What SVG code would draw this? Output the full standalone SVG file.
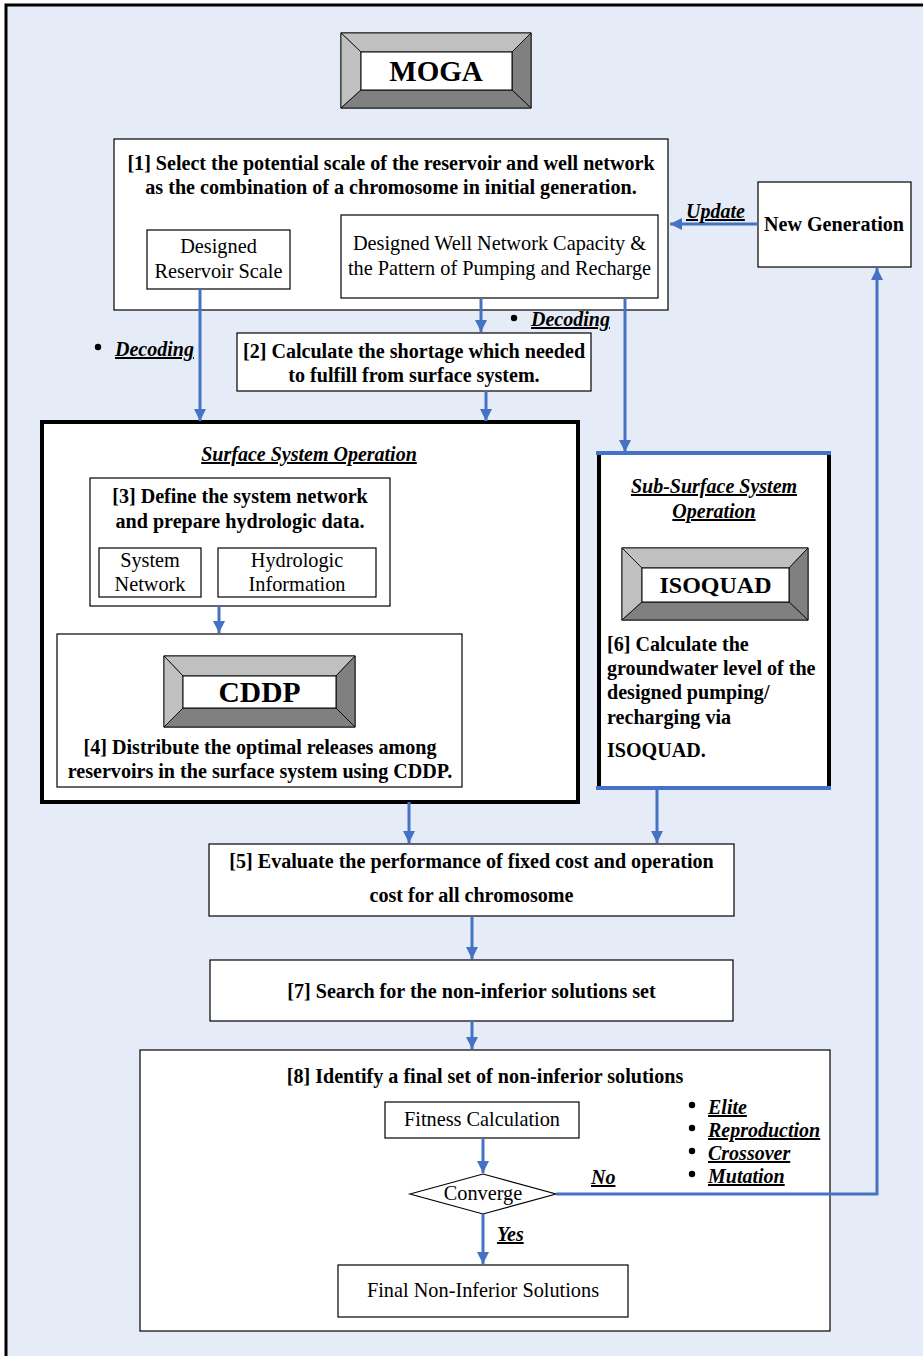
<svg xmlns="http://www.w3.org/2000/svg" width="923" height="1356" viewBox="0 0 923 1356">
<style>
text{font-family:"Liberation Serif","Times New Roman",serif;fill:#000}
.b{font-weight:bold;font-size:20.1px}
.r{font-size:20.3px}
.bi{font-weight:bold;font-style:italic;font-size:20px;text-decoration:underline}
.c{text-anchor:middle}
.box{fill:#fff;stroke:#000;stroke-width:1.2}
.con{fill:none;stroke:#4472C4;stroke-width:3}
.lt{fill:#C0C0C0;stroke:#000;stroke-width:0.8}
.dk{fill:#808080;stroke:#000;stroke-width:0.8}
</style>
<defs>
<marker id="ah" markerUnits="userSpaceOnUse" markerWidth="14" markerHeight="14" refX="12" refY="6" orient="auto">
<path d="M0,0 L12,6 L0,12 z" fill="#4472C4"/>
</marker>
</defs>
<rect x="0" y="0" width="923" height="1356" fill="#fff"/>
<rect x="6" y="5" width="917" height="1351" fill="#E6ECF7"/>
<path d="M6,1356 L6,5 L923,5" fill="none" stroke="#000" stroke-width="3"/>

<g id="moga">
<rect x="341" y="33" width="190" height="75" fill="#808080" stroke="#000" stroke-width="1"/>
<polygon class="lt" points="341,33 531,33 512,52 361,52"/>
<polygon class="lt" points="341,33 361,52 361,90 341,108"/>
<polygon class="dk" points="531,33 531,108 512,90 512,52"/>
<polygon class="dk" points="341,108 361,90 512,90 531,108"/>
<rect x="361" y="52" width="151" height="38" fill="#fff" stroke="#000" stroke-width="1"/>
<text class="c" x="436" y="81" style="font-weight:bold;font-size:29px">MOGA</text>
</g>

<g id="n1">
<rect class="box" x="114" y="139" width="554" height="171"/>
<text class="b c" x="391" y="170">[1] Select the potential scale of the reservoir and well network</text>
<text class="b c" x="391" y="194">as the combination of a chromosome in initial generation.</text>
</g>
<g id="n1a">
<rect class="box" x="147" y="230" width="143" height="59"/>
<text class="r c" x="218.5" y="253">Designed</text>
<text class="r c" x="218.5" y="278">Reservoir Scale</text>
</g>
<g id="n1b">
<rect class="box" x="341" y="215" width="317" height="83"/>
<text class="r c" x="499.5" y="250">Designed Well Network Capacity &amp;</text>
<text class="r c" x="499.5" y="275">the Pattern of Pumping and Recharge</text>
</g>

<g id="newgen">
<rect class="box" x="758" y="182" width="153" height="85"/>
<text class="b c" x="834" y="231">New Generation</text>
</g>

<g id="n2">
<rect class="box" x="237" y="333" width="354" height="58"/>
<text class="b c" x="414" y="358">[2] Calculate the shortage which needed</text>
<text class="b c" x="414" y="382">to fulfill from surface system.</text>
</g>

<g id="surface">
<rect x="42" y="422" width="536" height="380" fill="#fff" stroke="#000" stroke-width="4"/>
<text class="bi c" x="309" y="461">Surface System Operation</text>
</g>
<g id="n3">
<rect class="box" x="90" y="478" width="300" height="128"/>
<text class="b c" x="240" y="503">[3] Define the system network</text>
<text class="b c" x="240" y="528">and prepare hydrologic data.</text>
</g>
<g id="n3a">
<rect class="box" x="99" y="548" width="102" height="49"/>
<text class="r c" x="150" y="567">System</text>
<text class="r c" x="150" y="591">Network</text>
</g>
<g id="n3b">
<rect class="box" x="218" y="548" width="158" height="49"/>
<text class="r c" x="297" y="567">Hydrologic</text>
<text class="r c" x="297" y="591">Information</text>
</g>
<g id="n4">
<rect class="box" x="57" y="634" width="405" height="153"/>
<rect x="164" y="656" width="191" height="71" fill="#808080" stroke="#000" stroke-width="1"/>
<polygon class="lt" points="164,656 355,656 336,676 183,676"/>
<polygon class="lt" points="164,656 183,676 183,708 164,727"/>
<polygon class="dk" points="355,656 355,727 336,708 336,676"/>
<polygon class="dk" points="164,727 183,708 336,708 355,727"/>
<rect x="183" y="676" width="153" height="32" fill="#fff" stroke="#000" stroke-width="1"/>
<text class="c" x="259.5" y="702" style="font-weight:bold;font-size:29.5px">CDDP</text>
<text class="b c" x="260" y="754">[4] Distribute the optimal releases among</text>
<text class="b c" x="260" y="778">reservoirs in the surface system using CDDP.</text>
</g>

<g id="subsurface">
<rect x="597" y="453" width="233" height="335" fill="#fff"/>
<line x1="599" y1="453" x2="599" y2="788" stroke="#000" stroke-width="4"/>
<line x1="829" y1="453" x2="829" y2="788" stroke="#000" stroke-width="4"/>
<line x1="596" y1="453" x2="831" y2="453" stroke="#4472C4" stroke-width="4"/>
<line x1="596" y1="788" x2="831" y2="788" stroke="#4472C4" stroke-width="4"/>
<text class="bi c" x="714" y="493">Sub-Surface System</text>
<text class="bi c" x="714" y="518">Operation</text>
<rect x="622" y="548" width="186" height="72" fill="#808080" stroke="#000" stroke-width="1"/>
<polygon class="lt" points="622,548 808,548 789,568 642,568"/>
<polygon class="lt" points="622,548 642,568 642,602 622,620"/>
<polygon class="dk" points="808,548 808,620 789,602 789,568"/>
<polygon class="dk" points="622,620 642,602 789,602 808,620"/>
<rect x="642" y="568" width="147" height="34" fill="#fff" stroke="#000" stroke-width="1"/>
<text class="c" x="715.5" y="593" style="font-weight:bold;font-size:24px">ISOQUAD</text>
<text class="b" x="607" y="651">[6] Calculate the</text>
<text class="b" x="607" y="675">groundwater level of the</text>
<text class="b" x="607" y="699">designed pumping/</text>
<text class="b" x="607" y="724">recharging via</text>
<text class="b" x="607" y="757">ISOQUAD.</text>
</g>

<g id="n5">
<rect class="box" x="209" y="844" width="525" height="72"/>
<text class="b c" x="471.5" y="868">[5] Evaluate the performance of fixed cost and operation</text>
<text class="b c" x="471.5" y="902">cost for all chromosome</text>
</g>
<g id="n7">
<rect class="box" x="210" y="960" width="523" height="61"/>
<text class="b c" x="471.5" y="998">[7] Search for the non-inferior solutions set</text>
</g>
<g id="n8">
<rect class="box" x="140" y="1050" width="690" height="281"/>
<text class="b c" x="485" y="1083">[8] Identify a final set of non-inferior solutions</text>
</g>
<g id="fit">
<rect class="box" x="385" y="1102" width="194" height="36"/>
<text class="r c" x="482" y="1126">Fitness Calculation</text>
</g>
<g id="conv">
<polygon points="410,1194 483,1174 556,1194 483,1214" fill="#fff" stroke="#000" stroke-width="1.2"/>
<text class="r c" x="483" y="1200">Converge</text>
</g>
<g id="final">
<rect class="box" x="338" y="1265" width="290" height="52"/>
<text class="r c" x="483" y="1297">Final Non-Inferior Solutions</text>
</g>
<g id="ops">
<circle cx="692" cy="1105" r="3.2"/>
<circle cx="692" cy="1128" r="3.2"/>
<circle cx="692" cy="1151" r="3.2"/>
<circle cx="692" cy="1174" r="3.2"/>
<text class="bi" x="708" y="1114">Elite</text>
<text class="bi" x="708" y="1137">Reproduction</text>
<text class="bi" x="708" y="1160">Crossover</text>
<text class="bi" x="708" y="1183">Mutation</text>
</g>

<g id="connectors">
<line class="con" x1="200" y1="289" x2="200" y2="421" marker-end="url(#ah)"/>
<line class="con" x1="481" y1="298" x2="481" y2="332" marker-end="url(#ah)"/>
<line class="con" x1="486" y1="391" x2="486" y2="421" marker-end="url(#ah)"/>
<line class="con" x1="625" y1="298" x2="625" y2="452" marker-end="url(#ah)"/>
<line class="con" x1="758" y1="224" x2="670" y2="224" marker-end="url(#ah)"/>
<line class="con" x1="219" y1="606" x2="219" y2="633" marker-end="url(#ah)"/>
<line class="con" x1="409" y1="802" x2="409" y2="843" marker-end="url(#ah)"/>
<line class="con" x1="657" y1="789" x2="657" y2="843" marker-end="url(#ah)"/>
<line class="con" x1="472" y1="916" x2="472" y2="959" marker-end="url(#ah)"/>
<line class="con" x1="472" y1="1021" x2="472" y2="1049" marker-end="url(#ah)"/>
<line class="con" x1="483" y1="1138" x2="483" y2="1173" marker-end="url(#ah)"/>
<line class="con" x1="483" y1="1214" x2="483" y2="1264" marker-end="url(#ah)"/>
<polyline class="con" points="556,1194 877,1194 877,268" marker-end="url(#ah)"/>
<circle cx="98" cy="347" r="3.2"/>
<text class="bi" x="115" y="356">Decoding</text>
<circle cx="514" cy="318" r="3.2"/>
<text class="bi" x="531" y="326">Decoding</text>
<text class="bi" x="686" y="218">Update</text>
<text class="bi" x="591" y="1184">No</text>
<text class="bi" x="497" y="1241">Yes</text>
</g>
</svg>
